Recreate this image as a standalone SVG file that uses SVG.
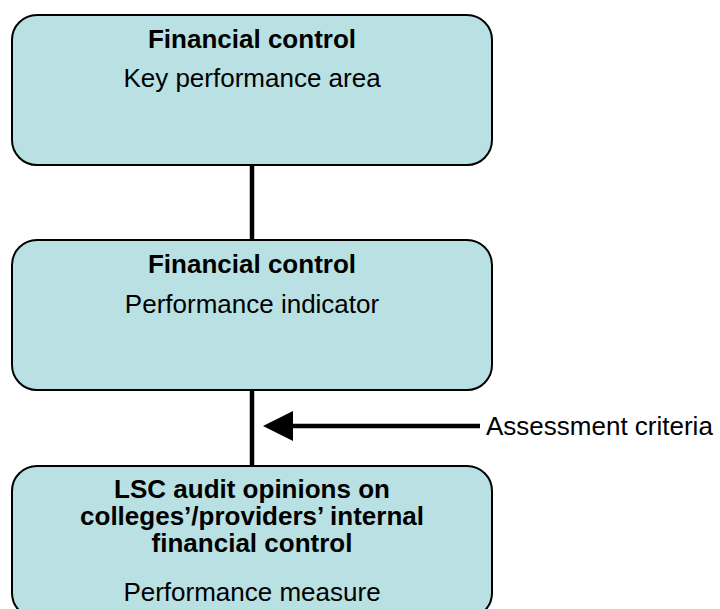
<svg xmlns="http://www.w3.org/2000/svg" width="720" height="609" viewBox="0 0 720 609">
<style>
.box{fill:#B9E0E3;stroke:#000;stroke-width:2}
.b{font-family:"Liberation Sans",Arial,sans-serif;font-size:26px;font-weight:bold;text-anchor:middle;fill:#000}
.r{font-family:"Liberation Sans",Arial,sans-serif;font-size:26px;text-anchor:middle;fill:#000}
.l{font-family:"Liberation Sans",Arial,sans-serif;font-size:26px;fill:#000}
.c{stroke:#000;stroke-width:4.5;fill:none}
</style>
<rect width="720" height="609" fill="#fff"/>
<g id="connectors">
<line class="c" x1="252" y1="165" x2="252" y2="240"/>
<line class="c" x1="252" y1="390" x2="252" y2="466"/>
<line class="c" x1="480" y1="426" x2="290" y2="426"/>
<polygon points="263,426 293,411 293,441" fill="#000"/>
</g>
<g id="node1">
<rect class="box" x="12" y="15" width="480" height="150" rx="25" ry="25"/>
<text class="b" x="252" y="48">Financial control</text>
<text class="r" x="252" y="87">Key performance area</text>
</g>
<g id="node2">
<rect class="box" x="12" y="240" width="480" height="150" rx="25" ry="25"/>
<text class="b" x="252" y="273">Financial control</text>
<text class="r" x="252" y="313">Performance indicator</text>
</g>
<g id="node3">
<rect class="box" x="12" y="466" width="480" height="152" rx="25" ry="25"/>
<text class="b" x="252" y="498">LSC audit opinions on</text>
<text class="b" x="252" y="525">colleges’/providers’ internal</text>
<text class="b" x="252" y="552">financial control</text>
<text class="r" x="252" y="601">Performance measure</text>
</g>
<g id="label">
<text class="l" x="486" y="435">Assessment criteria</text>
</g>
</svg>
